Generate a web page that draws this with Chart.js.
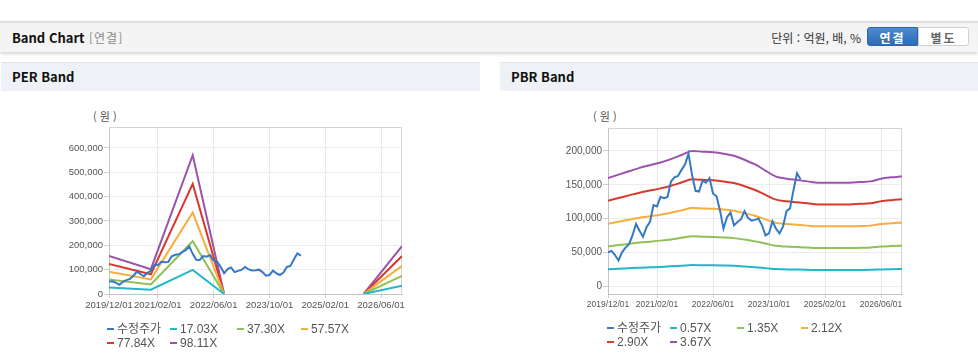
<!DOCTYPE html>
<html lang="ko">
<head>
<meta charset="utf-8">
<title>Band Chart</title>
<script src="https://cdn.jsdelivr.net/npm/chart.js@4.4.0/dist/chart.umd.min.js"></script>
<style>
  body { margin:0; width:978px; height:362px; overflow:hidden; background:#fff; position:relative;
         font-family:"Noto Sans CJK KR","Noto Sans",sans-serif; color:#111; }
  .topbar { position:absolute; left:0; top:21px; width:978px; height:29px; background:#f4f4f4;
            border-top:2px solid #e0e0e0; box-shadow:0 2px 3px rgba(0,0,0,.16); }
  .topbar .title { position:absolute; left:12px; top:0; line-height:29px; font-size:13px; font-weight:bold; }
  .topbar .sub { position:absolute; left:89px; top:0; line-height:29px; font-size:12px; color:#8a8a8a; letter-spacing:1px; }
  .topbar .unit { position:absolute; right:117px; top:0; line-height:29px; font-size:12px; color:#333; }
  .btn { position:absolute; top:4px; height:19px; line-height:19px; width:51px; text-align:center;
         font-size:12px; font-weight:bold; letter-spacing:2px; box-sizing:border-box; }
  .btn.on { left:867px; background:linear-gradient(#4b8bd1,#2f6cb2); color:#fff; border:1px solid #2d66a8; border-radius:3px 0 0 3px; }
  .btn.off { left:918px; background:#fff; color:#666; border:1px solid #cfcfcf; border-radius:0 3px 3px 0; }
  .panel { position:absolute; top:62px; height:300px; background:#fff; }
  .panel .hd { height:28px; line-height:28px; background:#eef2f7; border-top:1px solid #e2e6eb;
               font-size:13px; font-weight:bold; padding-left:11px; }
  .unitlbl { position:absolute; font-size:11px; color:#555; }
  canvas { position:absolute; }
  .legend { position:absolute; display:grid; grid-template-columns:63px 67px 64px auto; row-gap:0;
            font-family:"Liberation Sans",Arial,"Noto Sans CJK KR",sans-serif; font-size:12px; color:#555; }
  .legend .item { height:14px; line-height:14px; white-space:nowrap; }
  .legend .mk { display:inline-block; width:7px; height:2px; vertical-align:middle; margin-right:3px; position:relative; top:-1px; }
</style>
</head>
<body>
<div class="topbar">
  <span class="title">Band Chart</span>
  <span class="sub">[연결]</span>
  <span class="unit">단위 : 억원, 배, %</span>
  <span class="btn on">연결</span>
  <span class="btn off">별도</span>
</div>

<div class="panel" style="left:1px;width:479px;"><div class="hd">PER Band</div></div>
<div class="panel" style="left:500px;width:478px;"><div class="hd">PBR Band</div></div>

<div class="unitlbl" style="left:93px;top:108px;">( 원 )</div>
<div class="unitlbl" style="left:593px;top:108px;">( 원 )</div>

<canvas id="perChart" width="390" height="205" style="left:30px;top:120px;"></canvas>
<canvas id="pbrChart" width="400" height="205" style="left:520px;top:120px;"></canvas>

<div id="perLegend" class="legend" style="left:107px;top:322px;"></div>
<div id="pbrLegend" class="legend" style="left:607px;top:321px;"></div>

<script>
// x axis is months since 2019/12
const xTickMonths = [0, 14, 30, 46, 62, 78];
const xTickLabels = ["2019/12/01", "2021/02/01", "2022/06/01", "2023/10/01", "2025/02/01", "2026/06/01"];

// 수정주가, monthly from 2019/12
const priceValues = [
  50000, 52000, 46000, 38000, 50000, 57000, 62000, 75000, 92000, 82000,
  73000, 87000, 95000, 120000, 118000, 132000, 130000, 132000, 155000, 161000,
  163000, 172000, 180000, 196000, 165000, 141000, 140000, 156000, 153000, 160000,
  137000, 133000, 112000, 85000, 102000, 109000, 90000, 95000, 99000, 111000,
  101000, 97000, 98000, 100000, 90000, 75000, 78000, 96000, 85000, 78000,
  88000, 111000, 115000, 142000, 167000, 158000
];

// PER band
const perLabels = ["수정주가", "17.03X", "37.30X", "57.57X", "77.84X", "98.11X"];
const perBandMonths = [0, 12, 24, 33, 34, 73, 84];
const per1703 = [27100, 17700, 98900, 0, null, 0, 34100];
const per3730 = [59300, 38800, 216700, 0, null, 0, 74800];
const per5757 = [91500, 60000, 334500, 0, null, 0, 115400];
const per7784 = [123800, 81000, 452200, 0, null, 0, 156100];
const per9811 = [156000, 102000, 570000, 0, null, 0, 196700];
const perYTicks = [0, 100000, 200000, 300000, 400000, 500000, 600000];

// PBR band
const pbrLabels = ["수정주가", "0.57X", "1.35X", "2.12X", "2.90X", "3.67X"];
const pbrBandMonths = [0, 3, 6, 9, 12, 15, 18, 21, 24, 27, 30, 33, 36, 39, 42, 45, 48, 51, 54, 57, 60, 63, 66, 69, 72, 75, 78, 81, 84];
const pbr057 = [24800, 25600, 26400, 27200, 27800, 28400, 29200, 30100, 31100, 30900, 30700, 30400, 30000, 29000, 28000, 26600, 25200, 24700, 24400, 24100, 23800, 23800, 23800, 23800, 23900, 24100, 24700, 25000, 25200];
const pbr135 = [58800, 60700, 62500, 64400, 65800, 67300, 69100, 71400, 73600, 73200, 72800, 72100, 71000, 68800, 66200, 62900, 59600, 58500, 57700, 57000, 56300, 56300, 56300, 56300, 56600, 57000, 58500, 59200, 59800];
const pbr212 = [92400, 95300, 98200, 101100, 103400, 105700, 108600, 112100, 115500, 115000, 114400, 113200, 111500, 108000, 104000, 98800, 93600, 91900, 90700, 89500, 88400, 88400, 88400, 88400, 89000, 89500, 91900, 93000, 93900];
const pbr290 = [126400, 130400, 134300, 138300, 141400, 144600, 148600, 153300, 158000, 157300, 156500, 154900, 152500, 147800, 142200, 135100, 128000, 125600, 124100, 122500, 120900, 120900, 120900, 120900, 121700, 122500, 125600, 127200, 128400];
const pbr367 = [160000, 165000, 170000, 175000, 179000, 183000, 188000, 194000, 200000, 199000, 198000, 196000, 193000, 187000, 180000, 171000, 162000, 159000, 157000, 155000, 153000, 153000, 153000, 153000, 154000, 155000, 159000, 161000, 162500];
const pbrYTicks = [0, 50000, 100000, 150000, 200000];

const colors = ["#3578c6", "#23b7c8", "#8fc156", "#f6ae3c", "#d8392d", "#9b53ab"];

Chart.defaults.font.family = '"Liberation Sans", Arial, sans-serif';
Chart.defaults.color = "#555";

const framePlugin = {
  id: "frame",
  beforeDatasetsDraw(chart) {
    const a = chart.chartArea, ctx = chart.ctx;
    ctx.save();
    ctx.strokeStyle = "#d4d4d4";
    ctx.lineWidth = 1;
    ctx.beginPath();
    ctx.moveTo(a.left, a.top + 0.5);
    ctx.lineTo(a.right - 0.5, a.top + 0.5);
    ctx.lineTo(a.right - 0.5, a.bottom);
    ctx.stroke();
    ctx.restore();
  }
};

function pts(xs, ys) {
  return xs.map((x, i) => ({ x: x, y: ys[i] }));
}

function makeChart(el, cfg) {
  const datasets = [{
    label: cfg.labels[0],
    data: priceValues.map((y, i) => ({ x: i, y: y })),
    borderColor: colors[0],
    borderWidth: 2,
    pointRadius: 0,
    tension: 0
  }];
  cfg.bands.forEach((b, k) => {
    datasets.push({
      label: cfg.labels[k + 1],
      data: pts(cfg.bandMonths, b),
      borderColor: colors[k + 1],
      borderWidth: 2,
      pointRadius: 0,
      cubicInterpolationMode: cfg.smooth ? "monotone" : "default",
      tension: 0
    });
  });

  return new Chart(el, {
    type: "line",
    data: { datasets: datasets },
    plugins: [framePlugin],
    options: {
      responsive: false,
      animation: false,
      layout: { padding: cfg.padding },
      plugins: { legend: { display: false }, tooltip: { enabled: false } },
      scales: {
        x: {
          type: "linear",
          min: 0,
          max: 84,
          afterBuildTicks: (s) => { s.ticks = xTickMonths.map((v) => ({ value: v })); },
          afterFit: (s) => { s.height = 31; s.paddingLeft = 0; s.paddingRight = 0; },
          ticks: {
            autoSkip: false,
            maxRotation: 0,
            padding: 2,
            color: "#555",
            font: { size: cfg.xFont },
            callback: (v) => xTickLabels[xTickMonths.indexOf(v)]
          },
          grid: { color: "#e8e8e8", tickLength: 4, tickColor: "#cfcfcf" },
          border: { color: "#c4c4c4" }
        },
        y: {
          min: cfg.yMin,
          max: cfg.yMax,
          afterBuildTicks: (s) => { s.ticks = cfg.yTicks.map((v) => ({ value: v })); },
          afterFit: (s) => { s.width = cfg.yWidth; s.paddingTop = 0; s.paddingBottom = 0; },
          ticks: {
            padding: 1,
            color: "#555",
            font: { size: cfg.yFont },
            callback: (v) => v.toLocaleString("en-US")
          },
          grid: { color: "#ececec", tickLength: 5, tickColor: "#cfcfcf" },
          border: { color: "#c4c4c4" }
        }
      }
    }
  });
}

function makeLegend(el, labels) {
  labels.forEach((name, i) => {
    const item = document.createElement("div");
    item.className = "item";
    item.innerHTML = `<span class="mk" style="background:${colors[i]}"></span>${name}`;
    el.appendChild(item);
  });
}

makeChart(document.getElementById("perChart"), {
  labels: perLabels,
  bandMonths: perBandMonths,
  bands: [per1703, per3730, per5757, per7784, per9811],
  yMin: 0, yMax: 686000, yTicks: perYTicks,
  yWidth: 79, xFont: 9.5, yFont: 9.5,
  padding: { top: 7, right: 18, bottom: 0, left: 0 },
  smooth: false
});

makeChart(document.getElementById("pbrChart"), {
  labels: pbrLabels,
  bandMonths: pbrBandMonths,
  bands: [pbr057, pbr135, pbr212, pbr290, pbr367],
  yMin: -11700, yMax: 234000, yTicks: pbrYTicks,
  yWidth: 88, xFont: 8.5, yFont: 10,
  padding: { top: 8, right: 18, bottom: 0, left: 0 },
  smooth: true
});

makeLegend(document.getElementById("perLegend"), perLabels);
makeLegend(document.getElementById("pbrLegend"), pbrLabels);
</script>
</body>
</html>
